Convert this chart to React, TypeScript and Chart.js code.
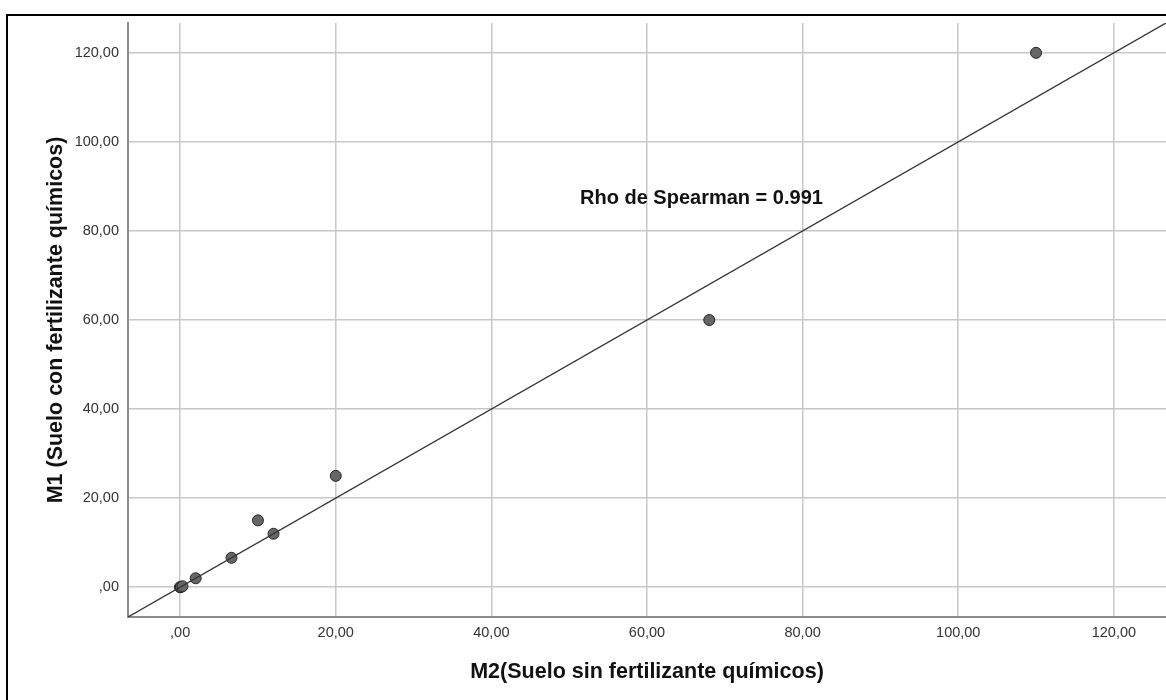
import React, { useEffect, useRef } from "react";
import { Chart, registerables } from "chart.js";

Chart.register(...registerables);

// Data
const m2Values = [0, 0, 0.1, 0.3, 2, 6.6, 10, 12, 20, 68, 110];
const m1Values = [0, 0, 0.05, 0.2, 2, 6.6, 15, 12, 25, 60, 120];
const axisMin = -6.7;
const axisMax = 126.7;
const tickStep = 20;
const xTitle = "M2(Suelo sin fertilizante químicos)";
const yTitle = "M1 (Suelo con fertilizante químicos)";
const annotationText = "Rho de Spearman = 0.991";
const annotationX = 67;
const annotationY = 87.3;

const fmt = (v: number) => (v === 0 ? ",00" : v.toFixed(2).replace(".", ","));
const FONT = "'Liberation Sans', Arial, sans-serif";

const framePlugin = {
  id: "frame",
  afterDraw(chart: any) {
    const ctx = chart.ctx;
    ctx.save();
    ctx.strokeStyle = "#000";
    ctx.lineWidth = 2;
    ctx.strokeRect(7, 15, 3000, 3000);
    const xs = chart.scales.x;
    const ys = chart.scales.y;
    ctx.fillStyle = "#111";
    ctx.font = `bold 20px ${FONT}`;
    ctx.textAlign = "center";
    ctx.textBaseline = "middle";
    ctx.fillText(annotationText, xs.getPixelForValue(annotationX), ys.getPixelForValue(annotationY));
    ctx.restore();
  },
};

export default function App() {
  const ref = useRef<HTMLCanvasElement | null>(null);
  useEffect(() => {
    if (!ref.current) return;
    const points = m2Values.map((x, i) => ({ x, y: m1Values[i] }));
    const chart = new Chart(ref.current, {
      type: "scatter",
      data: {
        datasets: [
          {
            type: "line",
            data: [
              { x: axisMin, y: axisMin },
              { x: axisMax, y: axisMax },
            ],
            borderColor: "#333",
            borderWidth: 1.3,
            pointRadius: 0,
            fill: false,
          } as any,
          {
            data: points,
            backgroundColor: "#666",
            borderColor: "#262626",
            borderWidth: 1,
            pointRadius: 5.5,
          },
        ],
      },
      options: {
        animation: false,
        responsive: false,
        devicePixelRatio: 1,
        layout: { autoPadding: false, padding: { top: 23, left: 0, right: 0, bottom: 0 } },
        plugins: { legend: { display: false }, tooltip: { enabled: false } },
        scales: {
          x: {
            type: "linear",
            min: axisMin,
            max: axisMax,
            afterFit: (s: any) => {
              s.height = 83;
              s.paddingLeft = 0;
              s.paddingRight = 0;
            },
            ticks: {
              stepSize: tickStep,
              includeBounds: false,
              callback: (v: any) => fmt(Number(v)),
              color: "#333",
              font: { size: 14.5, family: FONT },
              padding: 7,
              maxRotation: 0,
            },
            grid: { color: "#c8c8c8", lineWidth: 1.5, drawTicks: false },
            border: { color: "#8c8c8c", width: 2 },
            title: {
              display: true,
              text: xTitle,
              color: "#111",
              font: { size: 21.5, weight: "bold", family: FONT },
              padding: { top: 0, bottom: 15 },
            },
          },
          y: {
            type: "linear",
            min: axisMin,
            max: axisMax,
            afterFit: (s: any) => {
              s.width = 128;
              s.paddingTop = 0;
              s.paddingBottom = 0;
            },
            ticks: {
              stepSize: tickStep,
              includeBounds: false,
              callback: (v: any) => fmt(Number(v)),
              color: "#333",
              font: { size: 14.5, family: FONT },
              padding: 9,
            },
            grid: { color: "#c8c8c8", lineWidth: 1.5, drawTicks: false },
            border: { color: "#8c8c8c", width: 2 },
            title: {
              display: true,
              text: yTitle,
              color: "#111",
              font: { size: 21.5, weight: "bold", family: FONT },
              padding: { top: 43, bottom: 0 },
            },
          },
        },
      } as any,
      plugins: [framePlugin],
    });
    return () => chart.destroy();
  }, []);
  return (
    <div style={{ position: "absolute", left: 0, top: 0, width: 1166, height: 700, background: "#fff" }}>
      <canvas ref={ref} width={1166} height={700} style={{ display: "block" }} />
    </div>
  );
}
